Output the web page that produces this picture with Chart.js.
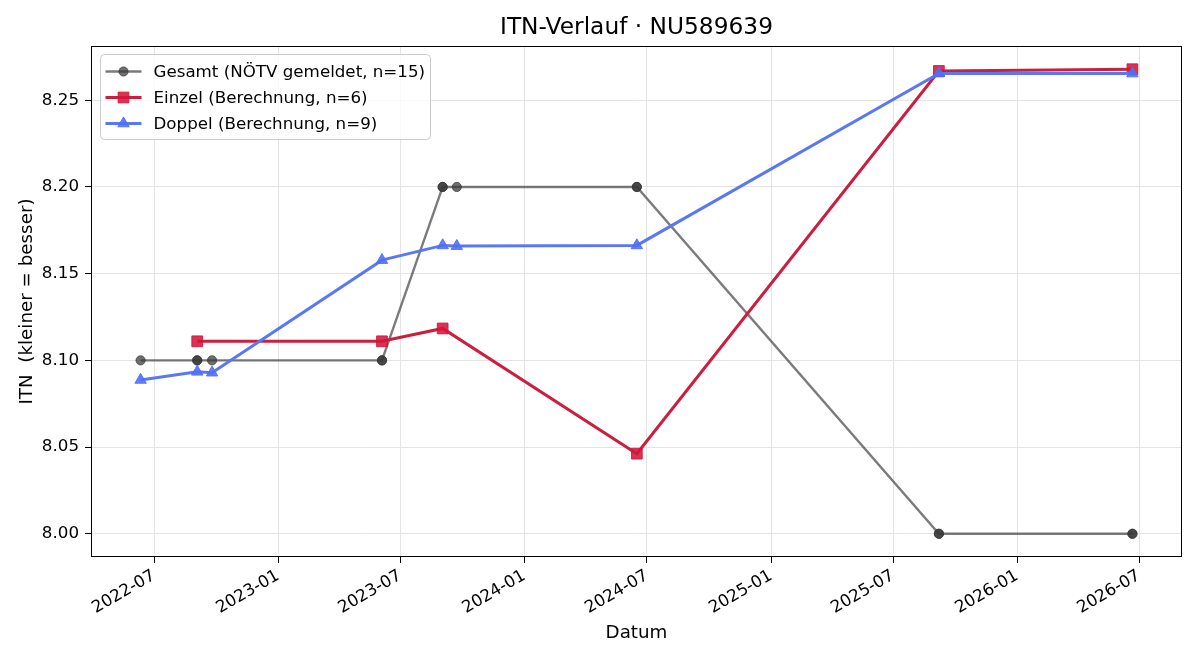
<!DOCTYPE html>
<html>
<head>
<meta charset="utf-8">
<title>ITN-Verlauf</title>
<script src="https://cdn.jsdelivr.net/npm/chart.js@4"></script>
<style>
  html, body { margin: 0; padding: 0; background: #fff; }
  canvas { display: block; }
</style>
</head>
<body>
<canvas id="itnChart" width="1200" height="660"></canvas>
<script>
    // Werte
    const chartTitle = 'ITN-Verlauf · NU589639';
    const seriesLabels = ['Gesamt (NÖTV gemeldet, n=15)', 'Einzel (Berechnung, n=6)', 'Doppel (Berechnung, n=9)'];

    const gesamtDates = ['2022-06-11', '2022-09-03', '2022-09-03', '2022-09-25', '2023-06-04', '2023-06-04',
        '2023-09-02', '2023-09-02', '2023-09-23', '2024-06-16', '2024-06-16',
        '2025-09-07', '2025-09-07', '2026-06-21', '2026-06-21'];
    const gesamtValues = [8.10, 8.10, 8.10, 8.10, 8.10, 8.10,
        8.20, 8.20, 8.20, 8.20, 8.20,
        8.00, 8.00, 8.00, 8.00];

    const einzelDates = ['2022-09-03', '2023-06-04', '2023-09-02', '2024-06-16', '2025-09-07', '2026-06-21'];
    const einzelValues = [8.111, 8.111, 8.1184, 8.0462, 8.2669, 8.2679];

    const doppelDates = ['2022-06-11', '2022-09-03', '2022-09-25', '2023-06-04', '2023-09-02', '2023-09-23',
        '2024-06-16', '2025-09-07', '2026-06-21'];
    const doppelValues = [8.0887, 8.0934, 8.0929, 8.1578, 8.1663, 8.1659, 8.1663, 8.2654, 8.2654];

    const xTickLabels = ['2022-07', '2023-01', '2023-07', '2024-01', '2024-07', '2025-01', '2025-07', '2026-01', '2026-07'];
    const yTicks = [8.00, 8.05, 8.10, 8.15, 8.20, 8.25];

    const FONT = "'DejaVu Sans', sans-serif";
    Chart.defaults.font.family = FONT;
    Chart.defaults.color = '#000';

    function toPoints(dates, values) {
        return dates.map((d, i) => ({ x: Date.parse(d), y: values[i] }));
    }

    // Achsengrenzen wie matplotlib: 5 % Rand um die Daten
    const allX = [...gesamtDates, ...einzelDates, ...doppelDates].map(d => Date.parse(d));
    const allY = [...gesamtValues, ...einzelValues, ...doppelValues];
    const xMinD = Math.min(...allX), xMaxD = Math.max(...allX);
    const yMinD = Math.min(...allY), yMaxD = Math.max(...allY);
    const xPad = (xMaxD - xMinD) * 0.05, yPad = (yMaxD - yMinD) * 0.05;

    function drawMarker(ctx, style, x, y, r) {
        ctx.beginPath();
        if (style === 'circle') {
            ctx.arc(x, y, r, 0, Math.PI * 2);
        } else if (style === 'rect') {
            const s = r * Math.SQRT1_2;
            ctx.rect(x - s, y - s, 2 * s, 2 * s);
        } else {
            ctx.moveTo(x, y - r);
            ctx.lineTo(x + r * Math.sin(2 * Math.PI / 3), y - r * Math.cos(2 * Math.PI / 3));
            ctx.lineTo(x + r * Math.sin(4 * Math.PI / 3), y - r * Math.cos(4 * Math.PI / 3));
            ctx.closePath();
        }
        ctx.fill();
        ctx.stroke();
    }

    /** Titel, Rahmen + Legende im Stil von matplotlib */
    const frameAndLegend = {
        id: 'frameAndLegend',
        afterDraw(chart) {
            const { ctx, chartArea: a } = chart;
            ctx.save();

            // Titel über der Zeichenfläche zentriert
            ctx.fillStyle = '#000';
            ctx.font = '23.3px ' + FONT;
            ctx.textAlign = 'center';
            ctx.textBaseline = 'middle';
            ctx.fillText(chartTitle, (a.left + a.right) / 2, 28);

            ctx.strokeStyle = '#000';
            ctx.lineWidth = 1;
            ctx.strokeRect(Math.round(a.left) + 0.5, Math.round(a.top) + 0.5,
                Math.round(a.right - a.left) - 1, Math.round(a.bottom - a.top) - 1);

            // Legende
            const bx = a.left + 9.5, by = a.top + 8.5, bw = 330, bh = 85;
            ctx.beginPath();
            ctx.roundRect(bx, by, bw, bh, 4);
            ctx.fillStyle = 'rgba(255,255,255,0.8)';
            ctx.fill();
            ctx.strokeStyle = '#cccccc';
            ctx.stroke();

            chart.data.datasets.forEach((ds, i) => {
                const y = by + 17 + i * 26;
                ctx.beginPath();
                ctx.moveTo(bx + 5, y);
                ctx.lineTo(bx + 41, y);
                ctx.strokeStyle = ds.borderColor;
                ctx.lineWidth = ds.borderWidth;
                ctx.stroke();
                ctx.fillStyle = ds.pointBackgroundColor;
                ctx.strokeStyle = ds.pointBorderColor;
                ctx.lineWidth = 1;
                drawMarker(ctx, ds.pointStyle, bx + 23, y, ds.pointRadius);
                ctx.fillStyle = '#000';
                ctx.font = '16.7px ' + FONT;
                ctx.textBaseline = 'middle';
                ctx.textAlign = 'left';
                ctx.fillText(ds.label, bx + 53, y + 1);
            });
            ctx.restore();
        }
    };

    new Chart(document.getElementById('itnChart'), {
        type: 'line',
        data: {
            datasets: [{
                label: seriesLabels[0],
                data: toPoints(gesamtDates, gesamtValues),
                borderColor: 'rgba(60,60,60,0.68)',
                borderWidth: 2.4,
                pointStyle: 'circle',
                pointRadius: 4.6,
                pointBackgroundColor: 'rgba(55,55,55,0.72)',
                pointBorderColor: 'rgba(55,55,55,0.72)',
                pointBorderWidth: 1,
                order: 3
            }, {
                label: seriesLabels[1],
                data: toPoints(einzelDates, einzelValues),
                borderColor: 'rgb(204,30,62)',
                borderWidth: 3,
                pointStyle: 'rect',
                pointRadius: 7.6,
                pointBackgroundColor: 'rgba(212,22,58,0.88)',
                pointBorderColor: 'rgba(212,22,58,0.88)',
                pointBorderWidth: 1,
                order: 2
            }, {
                label: seriesLabels[2],
                data: toPoints(doppelDates, doppelValues),
                borderColor: 'rgb(90,120,242)',
                borderWidth: 3,
                pointStyle: 'triangle',
                pointRadius: 6.6,
                pointBackgroundColor: 'rgba(80,112,245,0.9)',
                pointBorderColor: 'rgba(80,112,245,0.9)',
                pointBorderWidth: 1,
                order: 1
            }]
        },
        options: {
            responsive: false,
            animation: false,
            devicePixelRatio: 1,
            layout: { padding: { top: 46, right: 18, bottom: 0, left: 0 } },
            plugins: {
                legend: { display: false },
                tooltip: { enabled: false },
                title: { display: false }
            },
            scales: {
                x: {
                    type: 'linear',
                    min: xMinD - xPad,
                    max: xMaxD + xPad,
                    afterBuildTicks: scale => {
                        scale.ticks = xTickLabels.map(l => ({ value: Date.parse(l + '-01') }));
                    },
                    afterFit: scale => { scale.height = 103; },
                    ticks: {
                        minRotation: 30,
                        maxRotation: 30,
                        padding: 3,
                        font: { size: 16.7 },
                        color: '#000',
                        callback: v => new Date(v).toISOString().slice(0, 7)
                    },
                    grid: { color: '#e4e4e4', lineWidth: 1, tickLength: 6, tickColor: '#000', tickWidth: 1 },
                    border: { display: false },
                    title: {
                        display: true,
                        text: 'Datum',
                        font: { size: 18.3, lineHeight: 1.2 },
                        color: '#000',
                        padding: { top: 0, bottom: 16 }
                    }
                },
                y: {
                    type: 'linear',
                    min: yMinD - yPad,
                    max: yMaxD + yPad,
                    afterBuildTicks: scale => {
                        scale.ticks = yTicks.map(v => ({ value: v }));
                    },
                    afterFit: scale => { scale.width = 91; },
                    ticks: {
                        padding: 6,
                        font: { size: 16.7 },
                        color: '#000',
                        callback: v => v.toFixed(2)
                    },
                    grid: { color: '#e4e4e4', lineWidth: 1, tickLength: 6, tickColor: '#000', tickWidth: 1 },
                    border: { display: false },
                    title: {
                        display: true,
                        text: 'ITN  (kleiner = besser)',
                        font: { size: 18.3, lineHeight: 1.2 },
                        color: '#000',
                        padding: { top: 16, bottom: 0 }
                    }
                }
            }
        },
        plugins: [frameAndLegend]
    });
</script>
</body>
</html>
